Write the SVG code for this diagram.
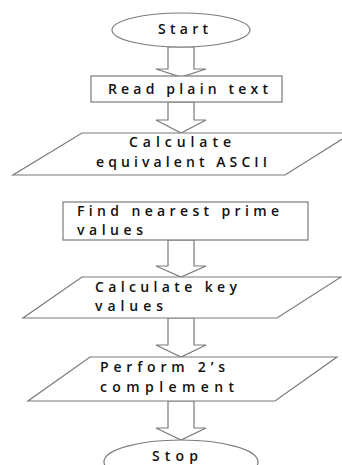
<svg xmlns="http://www.w3.org/2000/svg" width="342" height="465" viewBox="0 0 342 465">
<style>
.s{fill:#fff;stroke:#7a7a7a;stroke-width:1.2}
.a{fill:#fff;stroke:#7a7a7a;stroke-width:1.2;stroke-linejoin:miter}
.t{font-family:"Open Sans","Liberation Sans",sans-serif;font-size:14px;font-weight:600;fill:#111}
</style>
<rect width="342" height="465" fill="#fff"/>
<g id="connectors">
<polygon class="a" points="168,47 194,47 194,69 206,69 181,77 156,69 168,69"/>
<polygon class="a" points="168,102 194,102 194,120 206,120 181,133 156,120 168,120"/>
<polygon class="a" points="168,240 194,240 194,266 206,266 181,277 156,266 168,266"/>
<polygon class="a" points="168,318 194,318 194,345 206,345 181,357 156,345 168,345"/>
<polygon class="a" points="168,401 194,401 194,428 206,428 181,440 156,428 168,428"/>
</g>
<g id="start">
<ellipse class="s" cx="181" cy="30" rx="69" ry="17"/>
<text class="t" x="158" y="34" textLength="50" lengthAdjust="spacing">Start</text>
</g>
<g id="read">
<rect class="s" x="91" y="76" width="191" height="26"/>
<text class="t" x="108" y="94" textLength="160" lengthAdjust="spacing">Read plain text</text>
</g>
<g id="ascii">
<polygon class="s" points="82,133 352,133 285,175 13,175"/>
<text class="t" x="129" y="147" textLength="102" lengthAdjust="spacing">Calculate</text>
<text class="t" x="96" y="167" textLength="171" lengthAdjust="spacing">equivalent ASCII</text>
</g>
<g id="prime">
<rect class="s" x="63" y="202" width="245" height="38"/>
<text class="t" x="77" y="216" textLength="202" lengthAdjust="spacing">Find nearest prime</text>
<text class="t" x="77" y="235" textLength="66" lengthAdjust="spacing">values</text>
</g>
<g id="key">
<polygon class="s" points="82,277 341,277 277,318 23,318"/>
<text class="t" x="95" y="292" textLength="142" lengthAdjust="spacing">Calculate key</text>
<text class="t" x="95" y="311" textLength="68" lengthAdjust="spacing">values</text>
</g>
<g id="complement">
<polygon class="s" points="90,357 337,357 275,401 28,401"/>
<text class="t" x="100" y="372" textLength="125" lengthAdjust="spacing">Perform 2’s</text>
<text class="t" x="100" y="392" textLength="134" lengthAdjust="spacing">complement</text>
</g>
<g id="stop">
<ellipse class="s" cx="181" cy="462" rx="77" ry="22"/>
<text class="t" x="152" y="461" textLength="46" lengthAdjust="spacing">Stop</text>
</g>
</svg>
